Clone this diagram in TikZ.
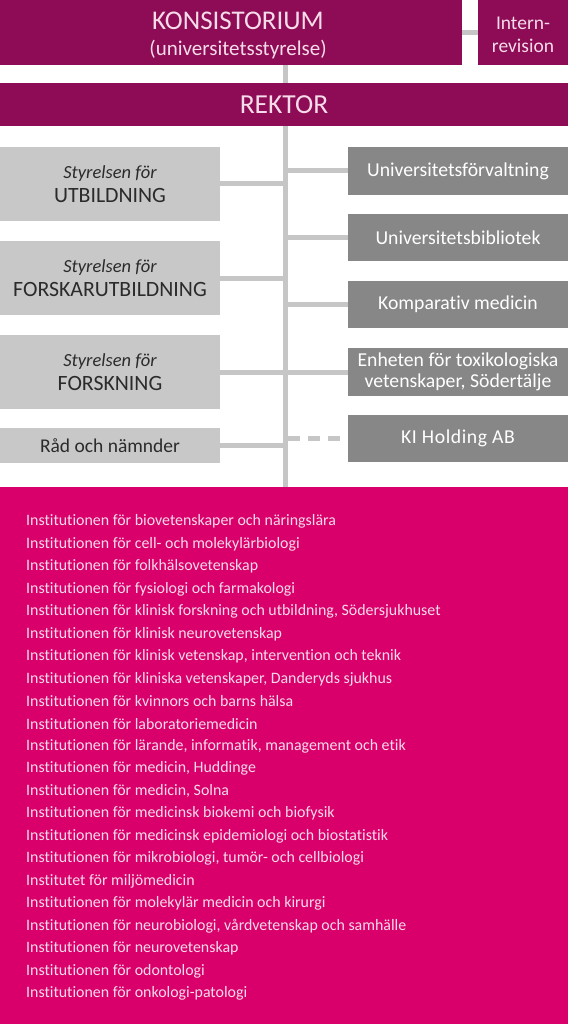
\documentclass[tikz,border=0pt]{standalone}
\usepackage{fontspec}
\setmainfont{Carlito}[Ligatures=NoCommon]
\definecolor{kipurple}{HTML}{8D0C55}
\definecolor{kipink}{HTML}{DA006B}
\definecolor{kidark}{HTML}{878787}
\definecolor{kilight}{HTML}{C8C8C8}
\definecolor{kiline}{HTML}{C6C6C6}
\definecolor{kitext}{HTML}{2B2B2B}
\definecolor{kiptext}{HTML}{F6DCEA}
\newcommand{\capsbox}[1]{{\fontsize{21.8}{25}\selectfont #1}}
\newcommand{\styr}{{\itshape\fontsize{18.5}{22}\selectfont Styrelsen för}}
\pgfdeclarelayer{bg}
\pgfsetlayers{bg,main}
\begin{document}
\begin{tikzpicture}[x=1pt,y=-1pt,
  box/.style={rectangle,inner sep=0pt,align=center},
  topbox/.style={box,fill=kipurple,text=kiptext},
  toptext/.style={inner sep=0pt,align=center,text=kiptext},
  leftbox/.style={box,fill=kilight,text=kitext,minimum width=220pt,font=\fontsize{19.5}{24}\selectfont},
  rightbox/.style={box,fill=kidark,text=white,minimum width=220pt,font=\fontsize{19.7}{21}\selectfont},
  conn/.style={draw=kiline,line width=5pt},
  dconn/.style={conn,dash pattern=on 12pt off 8pt},
  item/.style={anchor=west,inner sep=0pt,text=kiptext,font=\fontsize{15.9}{18}\selectfont}
]
\useasboundingbox (0,0) rectangle (574,1024);
\begin{pgfonlayer}{bg}
\fill[white] (0,0) rectangle (574,1024);
\end{pgfonlayer}
\coordinate (trunk) at (285,0);
% top
\node[topbox,minimum width=462pt,minimum height=65pt] (kons) at (231,32.5) {};
\node[toptext,font=\fontsize{21}{26}\selectfont] (konstext) at (238,35.5) {{\fontsize{27}{26}\selectfont KONSISTORIUM}\\(universitetsstyrelse)};
\node[topbox,minimum width=90pt,minimum height=65pt] (intern) at (523,32.5) {};
\node[toptext,font=\fontsize{19.5}{23}\selectfont] (interntext) at (523,34.5) {Intern-\\revision};
\node[topbox,minimum width=568pt,minimum height=43pt,font=\fontsize{27.5}{28}\selectfont] (rektor) at (284,104.5) {REKTOR};
% pink
\node[box,fill=kipink,minimum width=568pt,minimum height=537pt] (inst) at (284,755.5) {};
% left
\node[leftbox,minimum height=74pt] (l1) at (110,184) {\styr\\\capsbox{UTBILDNING}};
\node[leftbox,minimum height=74pt] (l2) at (110,278) {\styr\\\capsbox{FORSKARUTBILDNING}};
\node[leftbox,minimum height=74pt] (l3) at (110,372) {\styr\\\capsbox{FORSKNING}};
\node[leftbox,minimum height=35pt] (l4) at (110,445.5) {Råd och nämnder};
% right
\node[rightbox,minimum height=48pt] (r1) at (458,171) {Universitetsförvaltning};
\node[rightbox,minimum height=47pt] (r2) at (458,237.5) {Universitetsbibliotek};
\node[rightbox,minimum height=47pt] (r3) at (458,304.5) {Komparativ medicin};
\node[rightbox,minimum height=48pt] (r4) at (458,372) {Enheten för toxikologiska\\vetenskaper, Södertälje};
\node[rightbox,minimum height=47pt] (r5) at (458,438.5) {{\addfontfeature{LetterSpace=3}KI Holding AB}};
% connectors (behind the boxes)
\begin{pgfonlayer}{bg}
\draw[conn] (kons.south -| trunk) -- (inst.north -| trunk);
\draw[conn] (kons.east) -- (intern.west);
\foreach \n in {l1,l2,l3,l4} \draw[conn] (\n.east) -- (\n.east -| trunk);
\foreach \n in {r1,r2,r3,r4} \draw[conn] (\n.west) -- (\n.west -| trunk);
\draw[dconn] (r5.west -| trunk) ++(3,0) -- (r5.west);
\end{pgfonlayer}
% list
\foreach \t [count=\i from 0] in {
Institutionen för biovetenskaper och näringslära,
Institutionen för cell- och molekylärbiologi,
Institutionen för folkhälsovetenskap,
Institutionen för fysiologi och farmakologi,
{Institutionen för klinisk forskning och utbildning, Södersjukhuset},
Institutionen för klinisk neurovetenskap,
{Institutionen för klinisk vetenskap, intervention och teknik},
{Institutionen för kliniska vetenskaper, Danderyds sjukhus},
Institutionen för kvinnors och barns hälsa,
Institutionen för laboratoriemedicin,
{Institutionen för lärande, informatik, management och etik},
{Institutionen för medicin, Huddinge},
{Institutionen för medicin, Solna},
Institutionen för medicinsk biokemi och biofysik,
Institutionen för medicinsk epidemiologi och biostatistik,
{Institutionen för mikrobiologi, tumör- och cellbiologi},
Institutet för miljömedicin,
Institutionen för molekylär medicin och kirurgi,
{Institutionen för neurobiologi, vårdvetenskap och samhälle},
Institutionen för neurovetenskap,
Institutionen för odontologi,
Institutionen för onkologi-patologi}
  \node[item] (it\i) at (26,521.5+22.48*\i) {\t};
\end{tikzpicture}
\end{document}
